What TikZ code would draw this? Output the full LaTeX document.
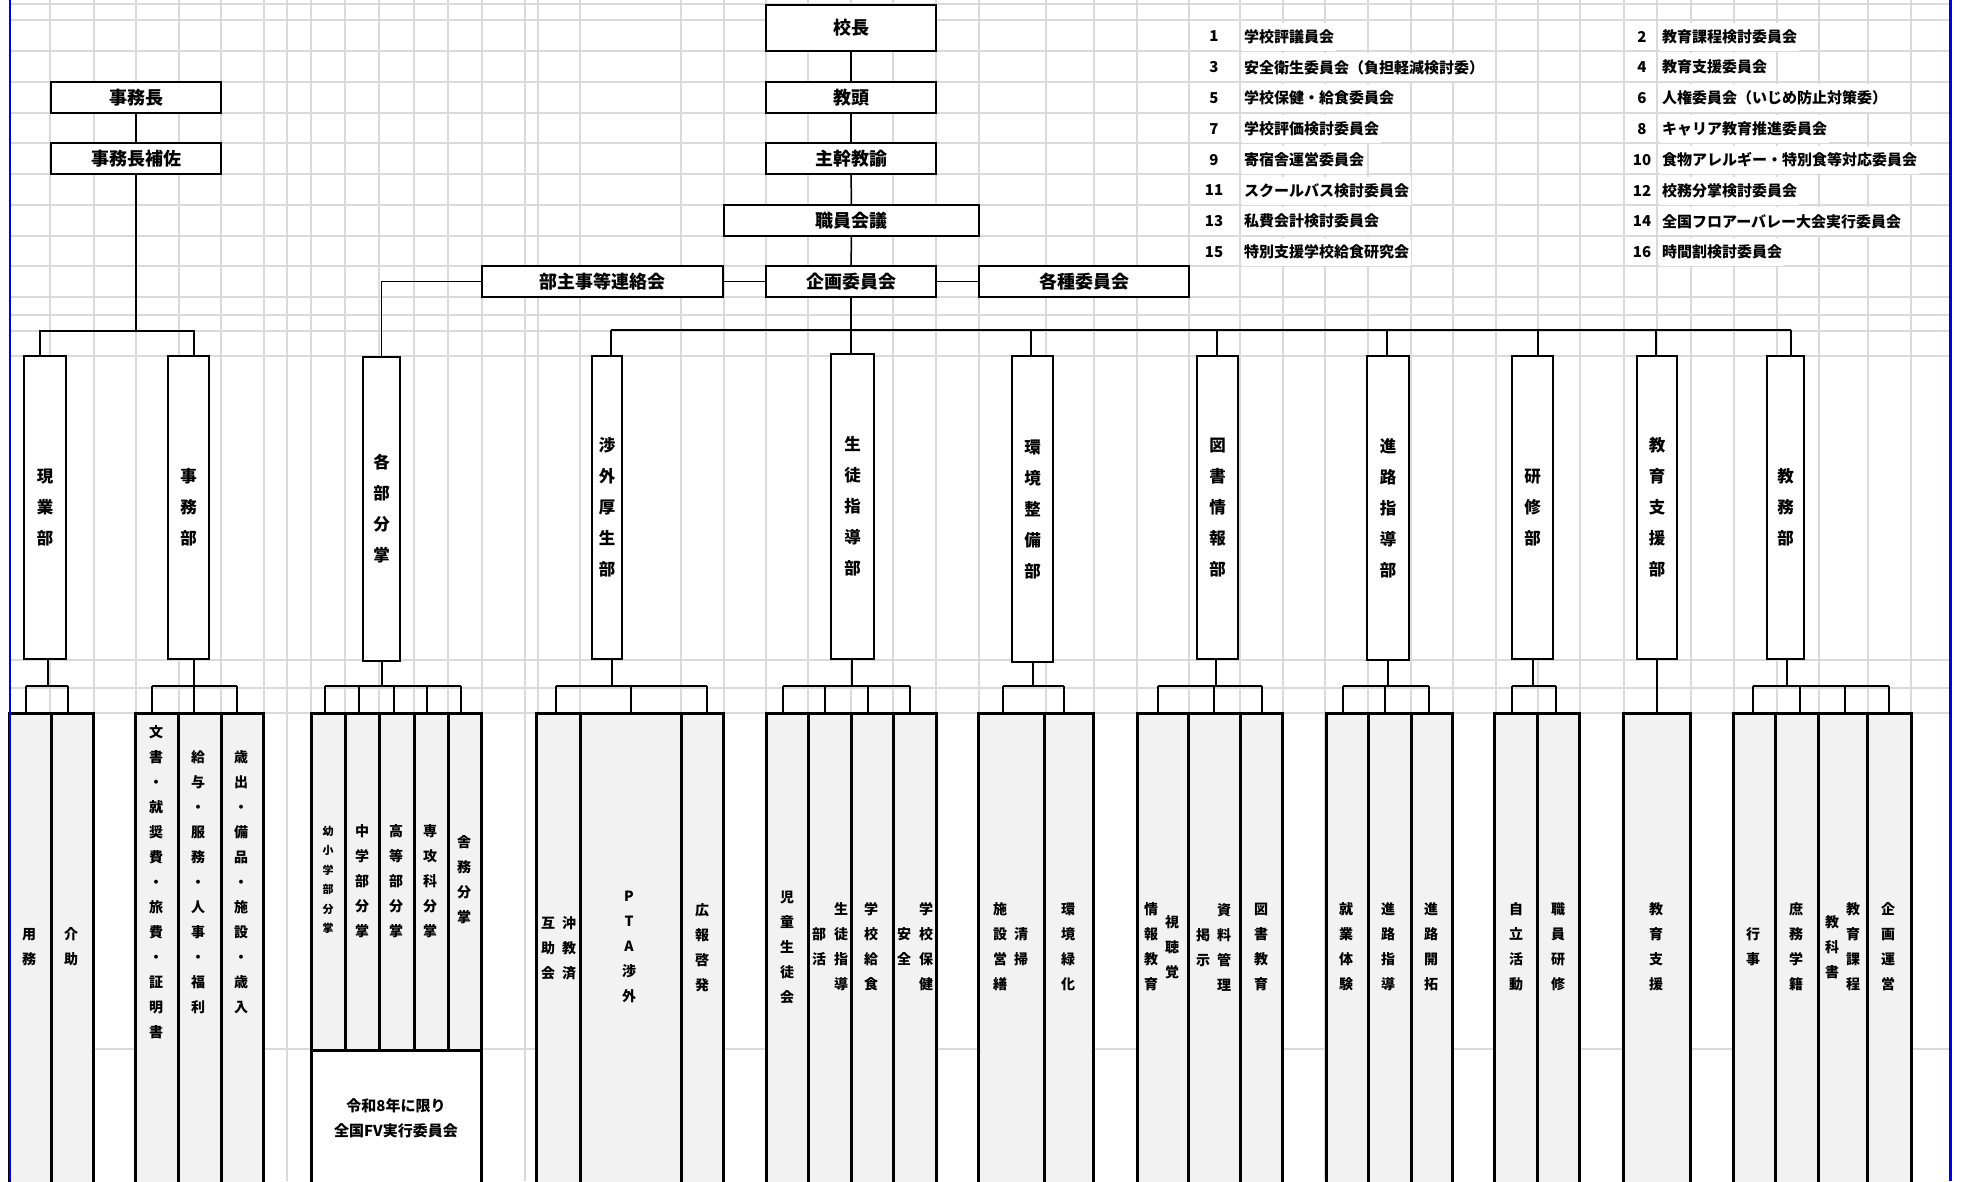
\documentclass[tikz,border=0pt]{standalone}
\usepackage{fontspec}
\setmainfont{Noto Sans CJK JP}
\usetikzlibrary{calc}
\definecolor{gridc}{RGB}{218,218,218}
\definecolor{cellc}{RGB}{242,242,242}
\definecolor{edgeblue}{RGB}{0,0,230}
\tikzset{
  gridline/.style={draw=gridc, line width=1.6pt},
  topbox/.style={draw, line width=2pt, fill=white, inner sep=0pt, font=\bfseries\fontsize{18}{20}\selectfont},
  deptbox/.style={draw, line width=2pt, fill=white, inner sep=0pt, align=center, minimum height=303pt, font=\bfseries\fontsize{16.5}{31}\selectfont},
  colbox/.style={draw, line width=3pt, fill=cellc, inner sep=0pt, anchor=north, minimum height=472pt},
  shortcol/.style={colbox, minimum height=337pt},
  vt/.style={align=center, inner sep=0pt, font=\bfseries\fontsize{14}{25}\selectfont},
  vtsmall/.style={align=center, inner sep=0pt, font=\bfseries\fontsize{11}{19.5}\selectfont},
  conn/.style={line width=1.5pt},
  brk/.style={line width=2pt},
  legnum/.style={inner sep=0pt, font=\bfseries\fontsize{15}{18}\selectfont},
  legtxt/.style={anchor=west, fill=white, inner xsep=2pt, inner ysep=0pt, minimum height=28pt, font=\bfseries\fontsize{15}{18}\selectfont},
}
\newcommand\colnode[4]{\node[colbox, minimum width=#3pt] (#1) at (#2,712) {};}
\newcommand\shortcolnode[4]{\node[shortcol, minimum width=#3pt] (#1) at (#2,712) {};}
\newcommand\vlab[4]{\node[vt] (#1) at (#2,#3) {#4};}
% drop from a department box to the bracket line
\newcommand\ddrop[2]{\draw[brk] ([xshift=#2pt]#1.south) -- ([xshift=#2pt]#1.south |- br);}
% drop from the bracket line to a column
\newcommand\cdrop[2]{\draw[brk] ([xshift=#2pt]#1.north) -- ([xshift=#2pt]#1.north |- br);}
% horizontal bracket between first and last column
\newcommand\brkbar[4]{\draw[brk] ([xshift=#2pt]#1.north |- br) -- ([xshift=#4pt]#3.north |- br);}
\begin{document}
\begin{tikzpicture}[x=1pt,y=-1pt]
\useasboundingbox (0,0) rectangle (1961,1181);
\clip (0,0) rectangle (1961,1181);
\fill[white] (0,0) rectangle (1961,1181);

% spreadsheet grid
\foreach \y in {4,20,51,82,113,143,174,205,236,266,297,315,331,356,660,688,713,1049}
  \draw[gridline] (10,\y) -- (1950,\y);
\foreach \x in {50,94,136,179,221,264,287,311,345,379,414,448,482,525,538,580,681,724,766,808,851,893,936,979,1046,1094,1137,1189,1240,1283,1325,1368,1411,1453,1496,1538,1580,1624,1657,1691,1734,1777,1819,1868,1911}
  \draw[gridline] (\x,0) -- (\x,1181);

% legend
\foreach \n/\t [count=\i from 0] in {1/学校評議員会,3/安全衛生委員会（負担軽減検討委）,5/学校保健・給食委員会,7/学校評価検討委員会,9/寄宿舎運営委員会,11/スクールバス検討委員会,13/私費会計検討委員会,15/特別支援学校給食研究会}{
  \node[legnum] (ln\n) at (1214,{36.5+30.8*\i}) {\n};
  \node[legtxt] (lt\n) at (1242,{36.5+30.8*\i}) {\t};
}
\foreach \n/\t [count=\i from 0] in {2/教育課程検討委員会,4/教育支援委員会,6/人権委員会（いじめ防止対策委）,8/キャリア教育推進委員会,10/食物アレルギー・特別食等対応委員会,12/校務分掌検討委員会,14/全国フロアーバレー大会実行委員会,16/時間割検討委員会}{
  \node[legnum] (ln\n) at (1642,{36.5+30.8*\i}) {\n};
  \node[legtxt] (lt\n) at (1660,{36.5+30.8*\i}) {\t};
}

% top boxes
\node[topbox, minimum width=170pt, minimum height=46pt] (kocho) at (851,28) {校長};
\node[topbox, minimum width=170pt, minimum height=31pt] (kyoto) at (851,97.5) {教頭};
\node[topbox, minimum width=170pt, minimum height=31pt] (shukan) at (851,158.5) {主幹教諭};
\node[topbox, minimum width=255pt, minimum height=31pt] (shokuin) at (851.5,220.5) {職員会議};
\node[topbox, minimum width=170pt, minimum height=31pt] (kikaku) at (851,281.5) {企画委員会};
\node[topbox, minimum width=210pt, minimum height=31pt] (kakushu) at (1084,281.5) {各種委員会};
\node[topbox, minimum width=241pt, minimum height=31pt] (bushuji) at (602.5,281.5) {部主事等連絡会};
\node[topbox, minimum width=170pt, minimum height=31pt] (jimucho) at (136,97.5) {事務長};
\node[topbox, minimum width=170pt, minimum height=31pt] (jimuhosa) at (136,158.5) {事務長補佐};

% department boxes
\node[deptbox, minimum width=42pt] (genkyo) at (45,507.5) {現\\業\\部};
\node[deptbox, minimum width=41pt] (jimubu) at (188.5,507.5) {事\\務\\部};
\node[deptbox, minimum width=37pt, minimum height=304pt] (kakubu) at (381.5,509) {各\\部\\分\\掌};
\node[deptbox, minimum width=30pt] (shogai) at (607,507.5) {渉\\外\\厚\\生\\部};
\node[deptbox, minimum width=43pt, minimum height=305pt] (seito) at (852.5,506.5) {生\\徒\\指\\導\\部};
\node[deptbox, minimum width=41pt, minimum height=306pt] (kankyo) at (1032.5,509) {環\\境\\整\\備\\部};
\node[deptbox, minimum width=41pt] (tosho) at (1217.5,507.5) {図\\書\\情\\報\\部};
\node[deptbox, minimum width=42pt, minimum height=304pt] (shinro) at (1388,508) {進\\路\\指\\導\\部};
\node[deptbox, minimum width=41pt] (kenshu) at (1532.5,507.5) {研\\修\\部};
\node[deptbox, minimum width=40pt] (kyoiku) at (1657,507.5) {教\\育\\支\\援\\部};
\node[deptbox, minimum width=37pt] (kyomu) at (1785.5,507.5) {教\\務\\部};

% upper connectors
\coordinate (bus) at (0,330);
\coordinate (lbus) at (0,331);
\coordinate (br) at (0,686);
\draw[conn] (kocho) -- (kyoto);
\draw[conn] (kyoto) -- (shukan);
\draw[conn] (shukan) -- (shokuin);
\draw[conn] (shokuin) -- (kikaku);
\draw[conn] (kikaku) -- (bushuji);
\draw[conn] (kikaku) -- (kakushu);
\draw[conn] (kikaku.south) -- (kikaku.south |- seito.north);
\draw[conn] ([xshift=4pt]shogai.north |- bus) -- ([xshift=5.5pt]kyomu.north |- bus);
\foreach \n/\s in {shogai/4,kankyo/-1.5,tosho/-0.5,shinro/-1,kenshu/5.5,kyoiku/-1,kyomu/5.5}
  \draw[conn] ([xshift=\s pt]\n.north) -- ([xshift=\s pt]\n.north |- bus);
\draw[conn] (bushuji.west) -| (kakubu.north);
\draw[conn] (jimucho) -- (jimuhosa);
\draw[conn] (jimuhosa.south) -- (jimuhosa.south |- lbus);
\draw[conn] ([xshift=-5pt]genkyo.north) |- ([xshift=5.5pt]jimubu.north |- lbus) -- ([xshift=5.5pt]jimubu.north);

% sub columns
\colnode{g1a}{30}{42}{} \colnode{g1b}{72}{42}{}
\colnode{g2a}{156.5}{43}{} \colnode{g2b}{199.5}{43}{} \colnode{g2c}{242}{42}{}
\shortcolnode{g3a}{328}{34}{} \shortcolnode{g3b}{362}{34}{} \shortcolnode{g3c}{396.5}{35}{} \shortcolnode{g3d}{431}{34}{} \shortcolnode{g3e}{464.5}{33}{}
\node[draw, line width=3pt, fill=white, anchor=north, minimum width=170pt, minimum height=136pt, align=center, font=\bfseries\fontsize{15}{25}\selectfont] (fvnote) at (396,1049) {令和8年に限り\\全国FV実行委員会};
\colnode{g4a}{558}{44}{} \colnode{g4b}{630.5}{101}{} \colnode{g4c}{702}{42}{}
\colnode{g5a}{787}{42}{} \colnode{g5b}{829.5}{43}{} \colnode{g5c}{872}{42}{} \colnode{g5d}{914.5}{43}{}
\colnode{g6a}{1011}{66}{} \colnode{g6b}{1068.5}{49}{}
\colnode{g7a}{1162.5}{51}{} \colnode{g7b}{1214}{52}{} \colnode{g7c}{1261}{42}{}
\colnode{g8a}{1347}{42}{} \colnode{g8b}{1389.5}{43}{} \colnode{g8c}{1431.5}{41}{}
\colnode{g9a}{1515.5}{43}{} \colnode{g9b}{1558}{42}{}
\colnode{g10a}{1656.5}{67}{}
\colnode{g11a}{1754}{42}{} \colnode{g11b}{1796.5}{43}{} \colnode{g11c}{1842.5}{49}{} \colnode{g11d}{1889}{44}{}

% brackets
\ddrop{genkyo}{3}   \brkbar{g1a}{-4.5}{g1b}{-4}
\cdrop{g1a}{-4.5} \cdrop{g1b}{-4}
\ddrop{jimubu}{5.5} \brkbar{g2a}{-4.5}{g2c}{-5}
\cdrop{g2a}{-4.5} \cdrop{g2b}{-5.5} \cdrop{g2c}{-5}
\ddrop{kakubu}{0}   \brkbar{g3a}{-3}{g3e}{-3.5}
\cdrop{g3a}{-3} \cdrop{g3b}{-3} \cdrop{g3c}{-2.5} \cdrop{g3d}{-4} \cdrop{g3e}{-3.5}
\ddrop{shogai}{5}   \brkbar{g4a}{-2}{g4c}{5}
\cdrop{g4a}{-2} \cdrop{g4b}{0.5} \cdrop{g4c}{5}
\ddrop{seito}{-0.5} \brkbar{g5a}{-4}{g5d}{-4.5}
\cdrop{g5a}{-4} \cdrop{g5b}{-4.5} \cdrop{g5c}{-4} \cdrop{g5d}{-4.5}
\ddrop{kankyo}{0.5} \brkbar{g6a}{-8}{g6b}{-4.5}
\cdrop{g6a}{-8} \cdrop{g6b}{-4.5}
\ddrop{tosho}{-1.5} \brkbar{g7a}{-4.5}{g7c}{1}
\cdrop{g7a}{-4.5} \cdrop{g7b}{0} \cdrop{g7c}{1}
\ddrop{shinro}{0}   \brkbar{g8a}{-4}{g8c}{-2.5}
\cdrop{g8a}{-4} \cdrop{g8b}{-4.5} \cdrop{g8c}{-2.5}
\ddrop{kenshu}{0.5} \brkbar{g9a}{-3.5}{g9b}{-2}
\cdrop{g9a}{-3.5} \cdrop{g9b}{-2}
\draw[brk] (kyoiku.south) -- (kyoiku.south |- g10a.north);
\ddrop{kyomu}{1.5}  \brkbar{g11a}{-1}{g11d}{0}
\cdrop{g11a}{-1} \cdrop{g11b}{3.5} \cdrop{g11c}{2.5} \cdrop{g11d}{0}

% column texts
\vlab{t1}{29}{947}{用\\務}
\vlab{t2}{71}{947}{介\\助}
\vlab{t3}{156}{882}{文\\書\\・\\就\\奨\\費\\・\\旅\\費\\・\\証\\明\\書}
\vlab{t4}{198}{882}{給\\与\\・\\服\\務\\・\\人\\事\\・\\福\\利}
\vlab{t5}{241}{882}{歳\\出\\・\\備\\品\\・\\施\\設\\・\\歳\\入}
\node[vtsmall] (t6) at (328,880) {幼\\小\\学\\部\\分\\掌};
\vlab{t7}{362}{881}{中\\学\\部\\分\\掌}
\vlab{t8}{396}{881}{高\\等\\部\\分\\掌}
\vlab{t9}{430}{881}{専\\攻\\科\\分\\掌}
\vlab{t10}{464}{880}{舎\\務\\分\\掌}
\vlab{t11}{569}{948}{沖\\教\\済}
\vlab{t12}{548}{948}{互\\助\\会}
\vlab{t13}{629}{947}{P\\T\\A\\渉\\外}
\vlab{t14}{702}{948}{広\\報\\啓\\発}
\vlab{t15}{787}{947}{児\\童\\生\\徒\\会}
\vlab{t16}{819}{947}{部\\活}
\vlab{t17}{841}{947}{生\\徒\\指\\導}
\vlab{t18}{871}{947}{学\\校\\給\\食}
\vlab{t19}{904}{947}{安\\全}
\vlab{t20}{926}{947}{学\\校\\保\\健}
\vlab{t21}{1000}{947}{施\\設\\営\\繕}
\vlab{t22}{1021}{947}{清\\掃}
\vlab{t23}{1068}{947}{環\\境\\緑\\化}
\vlab{t24}{1151}{947}{情\\報\\教\\育}
\vlab{t25}{1172}{947}{視\\聴\\覚}
\vlab{t26}{1203}{948}{掲\\示}
\vlab{t27}{1224}{947}{資\\料\\管\\理}
\vlab{t28}{1261}{947}{図\\書\\教\\育}
\vlab{t29}{1346}{947}{就\\業\\体\\験}
\vlab{t30}{1388}{947}{進\\路\\指\\導}
\vlab{t31}{1431}{947}{進\\路\\開\\拓}
\vlab{t32}{1516}{947}{自\\立\\活\\動}
\vlab{t33}{1558}{947}{職\\員\\研\\修}
\vlab{t34}{1656}{947}{教\\育\\支\\援}
\vlab{t35}{1753}{947}{行\\事}
\vlab{t36}{1796}{947}{庶\\務\\学\\籍}
\vlab{t37}{1832}{947}{教\\科\\書}
\vlab{t38}{1853}{947}{教\\育\\課\\程}
\vlab{t39}{1888}{947}{企\\画\\運\\営}

% sheet edges
\draw[edgeblue, line width=1.5pt] (10,0) -- (10,1181);
\draw[edgeblue, line width=3pt] (1950,0) -- (1950,1181);
\end{tikzpicture}
\end{document}
